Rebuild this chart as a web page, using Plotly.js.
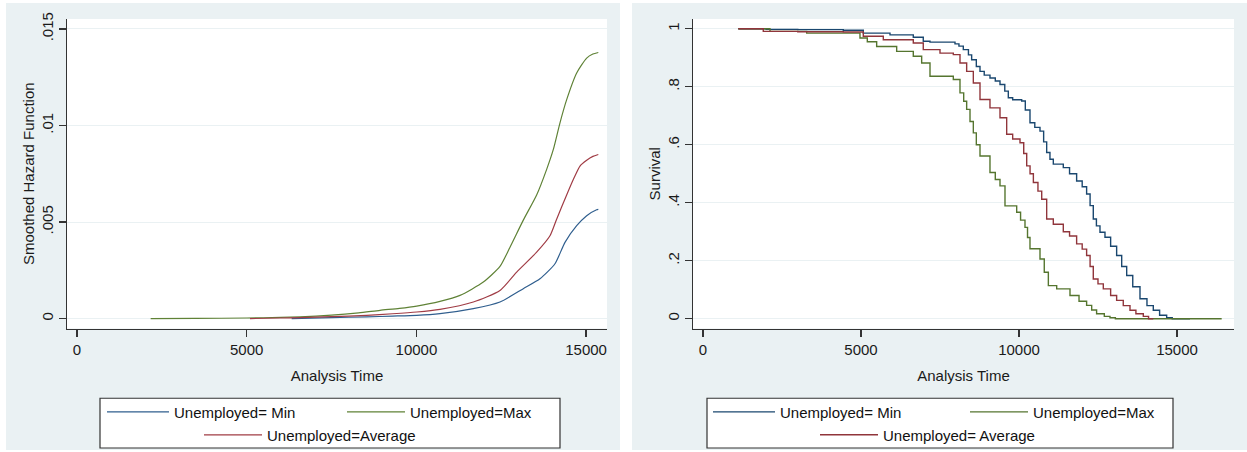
<!DOCTYPE html>
<html>
<head>
<meta charset="utf-8">
<script src="https://cdn.plot.ly/plotly-3.0.1.min.js"></script>
<style>html,body{margin:0;padding:0;background:#fff;}#chart{width:1247px;height:452px;}</style>
</head>
<body>
<div id="chart"></div>
<script>
// ---- Left panel: smoothed hazard ----
const hazMinT = [6325, 7500, 8535, 9300, 10009, 10695, 11677, 12463, 13150, 13641, 14083, 14378, 14723, 15017, 15311, 15360];
const hazMinH = [0, 0.00005, 0.00009, 0.00013, 0.00017, 0.00026, 0.00052, 0.00086, 0.00155, 0.00206, 0.00284, 0.00395, 0.00481, 0.00533, 0.00564, 0.00566];
const hazMaxT = [2170, 3500, 5000, 6000, 6570, 7500, 8300, 8928, 9500, 10009, 10695, 11285, 11972, 12463, 12758, 13150, 13543, 13838, 14035, 14231, 14428, 14723, 15017, 15200, 15360];
const hazMaxH = [0, 0.00001, 0.00003, 0.00006, 0.00009, 0.00018, 0.0003, 0.00043, 0.00053, 0.00065, 0.00089, 0.0012, 0.00189, 0.0027, 0.0037, 0.0051, 0.0064, 0.00773, 0.00876, 0.01014, 0.01134, 0.01272, 0.01349, 0.0137, 0.01378];
const hazAvgT = [5097, 6000, 6570, 7500, 8535, 9300, 10009, 10695, 11677, 12463, 12955, 13543, 13936, 14132, 14427, 14623, 14820, 15017, 15200, 15360];
const hazAvgH = [0, 0.00003, 0.00005, 0.0001, 0.00017, 0.00025, 0.00034, 0.00048, 0.00086, 0.00146, 0.00241, 0.00344, 0.00429, 0.00515, 0.0064, 0.0072, 0.0079, 0.0082, 0.0084, 0.0085];

// ---- Right panel: Kaplan-Meier survival ----
const survMinT = [1117, 2000, 3000, 4440, 5073, 5918, 6655, 6971, 7184, 7975, 8100, 8238, 8400, 8502, 8650, 8766, 8900, 9082, 9250, 9399, 9550, 9662, 9800, 10085, 10200, 10348, 10500, 10665, 10780, 10876, 10980, 11086, 11402, 11600, 11824, 12000, 12140, 12250, 12351, 12450, 12563, 12721, 12900, 13090, 13250, 13408, 13600, 13829, 14050, 14250, 14450, 14673, 14850, 15411];
const survMinS = [1, 0.998, 0.997, 0.995, 0.985, 0.979, 0.971, 0.957, 0.954, 0.948, 0.94, 0.928, 0.91, 0.893, 0.87, 0.853, 0.84, 0.83, 0.82, 0.808, 0.785, 0.762, 0.755, 0.751, 0.72, 0.676, 0.66, 0.647, 0.61, 0.573, 0.55, 0.533, 0.521, 0.5, 0.475, 0.455, 0.43, 0.39, 0.344, 0.32, 0.298, 0.281, 0.25, 0.218, 0.18, 0.149, 0.11, 0.069, 0.045, 0.029, 0.012, 0.003, 0, 0];
const survMaxT = [1117, 2120, 3281, 4440, 4968, 5200, 5496, 6129, 6655, 6920, 7184, 7922, 8133, 8250, 8344, 8450, 8555, 8650, 8766, 9082, 9250, 9399, 9557, 9927, 10050, 10190, 10270, 10348, 10665, 10800, 10929, 11193, 11614, 11900, 12140, 12300, 12456, 12700, 12880, 13050, 16414];
const survMaxS = [1, 0.991, 0.985, 0.985, 0.968, 0.955, 0.939, 0.922, 0.905, 0.882, 0.836, 0.825, 0.779, 0.75, 0.722, 0.68, 0.641, 0.6, 0.561, 0.504, 0.48, 0.458, 0.389, 0.367, 0.34, 0.315, 0.28, 0.241, 0.206, 0.16, 0.114, 0.103, 0.08, 0.06, 0.046, 0.03, 0.017, 0.008, 0.003, 0, 0];
const survAvgT = [1117, 1908, 3000, 4440, 5073, 5706, 6655, 6971, 7500, 7922, 8133, 8344, 8555, 8766, 9082, 9399, 9610, 9800, 10032, 10150, 10244, 10350, 10455, 10600, 10719, 10876, 11086, 11402, 11600, 11824, 12000, 12140, 12250, 12351, 12500, 12668, 12900, 13090, 13300, 13513, 13700, 13934, 14100, 14250];
const survAvgS = [1, 0.991, 0.99, 0.989, 0.974, 0.962, 0.951, 0.928, 0.916, 0.911, 0.882, 0.853, 0.813, 0.756, 0.727, 0.693, 0.636, 0.62, 0.607, 0.57, 0.527, 0.5, 0.47, 0.44, 0.412, 0.344, 0.326, 0.3, 0.285, 0.258, 0.24, 0.218, 0.18, 0.137, 0.12, 0.103, 0.08, 0.063, 0.045, 0.029, 0.017, 0.008, 0, 0];

const xTickVals = [0, 5000, 10000, 15000];
const xTickText = ['0', '5000', '10000', '15000'];
const hazTickVals = [0, 0.005, 0.01, 0.015];
const hazTickText = ['0', '.005', '.01', '.015'];
const survTickVals = [0, 0.2, 0.4, 0.6, 0.8, 1];
const survTickText = ['0', '.2', '.4', '.6', '.8', '1'];

const leftNames = ['Unemployed= Min', 'Unemployed=Max', 'Unemployed=Average'];
const rightNames = ['Unemployed= Min', 'Unemployed=Max', 'Unemployed= Average'];

const cBlue = '#1a476f', cGreen = '#55752f', cRed = '#90353b';
const FONT = 'Liberation Sans, Arial, sans-serif';
const W = 1247, H = 452;
const px = v => v / W;
const py = v => 1 - v / H;

const smooth = {shape: 'spline', smoothing: 0.6};
const traces = [
  {x: hazMinT, y: hazMinH, xaxis: 'x', yaxis: 'y', name: leftNames[0], legend: 'legend', line: Object.assign({color: '#2f5e8e', width: 1.2}, smooth)},
  {x: hazMaxT, y: hazMaxH, xaxis: 'x', yaxis: 'y', name: leftNames[1], legend: 'legend2', line: Object.assign({color: '#5f8236', width: 1.2}, smooth)},
  {x: hazAvgT, y: hazAvgH, xaxis: 'x', yaxis: 'y', name: leftNames[2], legend: 'legend3', line: Object.assign({color: '#a03c45', width: 1.2}, smooth)},
  {x: survMinT, y: survMinS, xaxis: 'x2', yaxis: 'y2', name: rightNames[0], legend: 'legend4', line: {color: cBlue, width: 1.4, shape: 'hv'}},
  {x: survMaxT, y: survMaxS, xaxis: 'x2', yaxis: 'y2', name: rightNames[1], legend: 'legend5', line: {color: cGreen, width: 1.4, shape: 'hv'}},
  {x: survAvgT, y: survAvgS, xaxis: 'x2', yaxis: 'y2', name: rightNames[2], legend: 'legend6', line: {color: cRed, width: 1.4, shape: 'hv'}}
].map(t => Object.assign({type: 'scatter', mode: 'lines', showlegend: true, hoverinfo: 'skip'}, t));

const axFont = {family: FONT, size: 15, color: '#1a1a1a'};
function xAxis(domain, range) {
  return {domain: domain, range: range, tickvals: xTickVals, ticktext: xTickText, showgrid: false, zeroline: false,
    showline: true, linecolor: '#333', linewidth: 1.3, ticks: 'outside', ticklen: 7, tickcolor: '#333', tickwidth: 1.3,
    tickfont: axFont, title: {text: 'Analysis Time', font: axFont, standoff: 13}, fixedrange: true};
}
function yAxis(range, tv, tt, title) {
  return {domain: [py(330), py(19)], range: range, tickvals: tv, ticktext: tt, tickangle: -90, showgrid: true,
    gridcolor: '#eaf1f3', gridwidth: 1, zeroline: false, showline: true, linecolor: '#333', linewidth: 1.3,
    ticks: 'outside', ticklen: 7, tickcolor: '#333', tickwidth: 1.3, tickfont: axFont,
    title: {text: title, font: axFont, standoff: 0}, fixedrange: true};
}
const xa1 = xAxis([px(67), px(607)], [-295, 15616]); xa1.anchor = 'y';
const xa2 = xAxis([px(693), px(1234)], [-316, 16804]); xa2.anchor = 'y2';
const ya1 = yAxis([-0.000515, 0.01552], hazTickVals, hazTickText, 'Smoothed Hazard Function'); ya1.anchor = 'x';
const ya2 = yAxis([-0.034, 1.034], survTickVals, survTickText, 'Survival'); ya2.anchor = 'x2';

function leg(xp, yp, iw) {
  return {x: px(xp), y: py(yp), xanchor: 'left', yanchor: 'middle', bgcolor: 'rgba(0,0,0,0)', borderwidth: 0,
    font: {family: FONT, size: 15, color: '#111'}, itemwidth: iw || 58, orientation: 'h'};
}

const gray = '#eaf1f3';
const shapes = [
  {type: 'rect', xref: 'paper', yref: 'paper', x0: px(6), x1: px(620), y0: 0, y1: py(3), fillcolor: gray, line: {width: 0}, layer: 'below'},
  {type: 'rect', xref: 'paper', yref: 'paper', x0: px(632), x1: 1, y0: 0, y1: py(3), fillcolor: gray, line: {width: 0}, layer: 'below'},
  {type: 'rect', xref: 'x domain', yref: 'y domain', x0: 0, x1: 1, y0: 0, y1: 1, fillcolor: '#fff', line: {width: 0}, layer: 'below'},
  {type: 'rect', xref: 'x2 domain', yref: 'y2 domain', x0: 0, x1: 1, y0: 0, y1: 1, fillcolor: '#fff', line: {width: 0}, layer: 'below'},
  {type: 'rect', xref: 'paper', yref: 'paper', x0: px(100), x1: px(560), y0: py(450), y1: py(400), fillcolor: '#fff', line: {color: '#333', width: 1.2}, layer: 'below'},
  {type: 'rect', xref: 'paper', yref: 'paper', x0: px(707), x1: px(1173), y0: py(450), y1: py(400), fillcolor: '#fff', line: {color: '#333', width: 1.2}, layer: 'below'}
];

const layout = {
  width: W, height: H, margin: {l: 0, r: 0, t: 0, b: 0, pad: 0},
  paper_bgcolor: '#fff', plot_bgcolor: 'rgba(0,0,0,0)',
  font: {family: FONT, size: 15, color: '#111'},
  xaxis: xa1, yaxis: ya1, xaxis2: xa2, yaxis2: ya2,
  legend: leg(102, 414, 62), legend2: leg(342, 414), legend3: leg(199, 437),
  legend4: leg(708, 414, 62), legend5: leg(965, 414), legend6: leg(815, 437),
  shapes: shapes
};

Plotly.newPlot('chart', traces, layout, {displayModeBar: false, staticPlot: true});
</script>
</body>
</html>
